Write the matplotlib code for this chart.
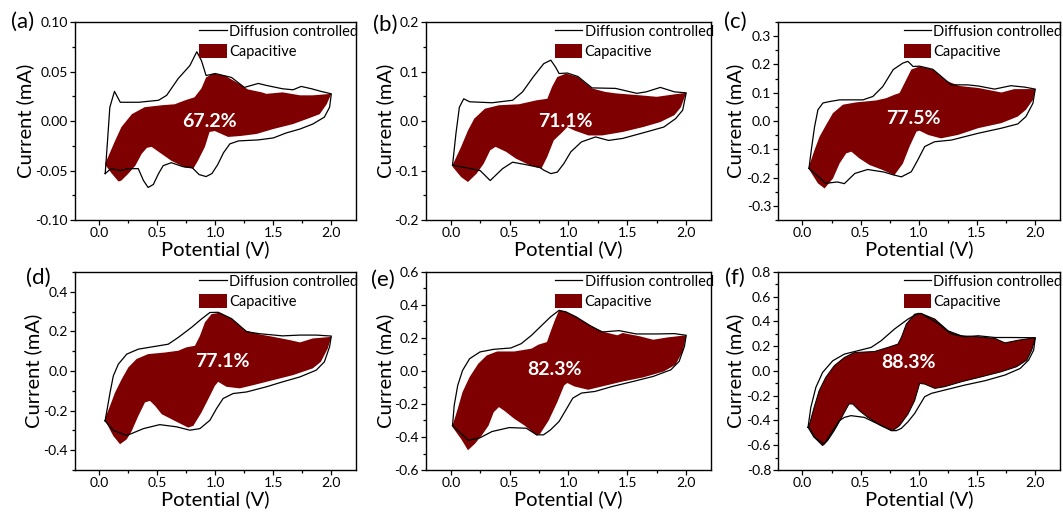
import matplotlib
matplotlib.use('Agg')
import matplotlib.pyplot as plt
from matplotlib.lines import Line2D
from matplotlib.patches import Patch
from matplotlib.ticker import MultipleLocator, AutoMinorLocator, FormatStrFormatter

plt.rcParams['font.family'] = ['Lato', 'DejaVu Sans']
plt.rcParams['axes.unicode_minus'] = False

# ---- data: potential (V) / current (mA), closed loops ----
# (a)
A_TOT_V = [0.05, 0.07, 0.09, 0.13, 0.18, 0.34, 0.51, 0.58, 0.68, 0.78, 0.84, 0.88, 0.92, 1.00, 1.14,
           1.25, 1.37, 1.44, 1.58, 1.67, 1.74, 1.83, 1.91, 2.00,
           1.985, 1.94, 1.84, 1.73, 1.61, 1.50, 1.37, 1.20, 1.125, 1.07, 1.02, 0.97, 0.92, 0.86, 0.80,
           0.72, 0.62, 0.55, 0.51, 0.465, 0.42, 0.38, 0.335, 0.25, 0.18, 0.10, 0.05]
A_TOT_I = [-0.053, -0.020, 0.014, 0.030, 0.019, 0.019, 0.021, 0.026, 0.043, 0.056, 0.070, 0.061, 0.046, 0.048, 0.044,
           0.034, 0.038, 0.036, 0.0326, 0.0316, 0.035, 0.0326, 0.030, 0.0275,
           0.014, 0.004, -0.003, -0.008, -0.012, -0.017, -0.019, -0.020, -0.023, -0.032, -0.044, -0.053, -0.056, -0.054, -0.047,
           -0.046, -0.042, -0.045, -0.053, -0.064, -0.067, -0.060, -0.048, -0.048, -0.050, -0.048, -0.053]
A_CAP_V = [0.05, 0.135, 0.19, 0.28, 0.39, 0.54, 0.65, 0.74, 0.82, 0.88, 0.92, 0.98, 1.08, 1.20, 1.28, 1.40, 1.44,
           1.58, 1.73, 1.84, 2.00,
           1.96, 1.90, 1.81, 1.67, 1.50, 1.355, 1.22, 1.11, 0.995, 0.95, 0.91, 0.85, 0.81, 0.74, 0.62, 0.535,
           0.45, 0.41, 0.365, 0.31, 0.25, 0.19, 0.165, 0.107, 0.05]
A_CAP_I = [-0.043, -0.020, -0.006, 0.007, 0.014, 0.016, 0.017, 0.021, 0.024, 0.033, 0.044, 0.048, 0.046, 0.038, 0.032, 0.029, 0.0275,
           0.029, 0.026, 0.026, 0.0275,
           0.017, 0.007, 0.003, -0.003, -0.008, -0.013, -0.015, -0.016, -0.010, -0.011, -0.026, -0.040, -0.048, -0.047, -0.040, -0.033,
           -0.026, -0.027, -0.033, -0.045, -0.053, -0.060, -0.061, -0.053, -0.044]

# (b)
B_TOT_V = [0.015, 0.044, 0.073, 0.11, 0.16, 0.35, 0.525, 0.61, 0.70, 0.79, 0.85, 0.89, 0.92, 0.99, 1.08, 1.20, 1.40,
           1.58, 1.66, 1.78, 1.90, 2.00,
           1.97, 1.91, 1.81, 1.66, 1.46, 1.34, 1.23, 1.11, 1.02, 0.96, 0.905, 0.85, 0.79, 0.76, 0.64, 0.525,
           0.44, 0.335, 0.25, 0.15, 0.015]
B_TOT_I = [-0.089, -0.025, 0.028, 0.045, 0.039, 0.037, 0.042, 0.059, 0.089, 0.116, 0.123, 0.109, 0.096, 0.097, 0.090, 0.067, 0.066,
           0.056, 0.059, 0.068, 0.059, 0.057,
           0.022, 0.005, -0.012, -0.022, -0.035, -0.039, -0.032, -0.042, -0.062, -0.086, -0.103, -0.106, -0.099, -0.094, -0.088, -0.083,
           -0.096, -0.120, -0.100, -0.095, -0.089]
B_CAP_V = [0.015, 0.088, 0.146, 0.20, 0.29, 0.41, 0.58, 0.73, 0.82, 0.86, 0.905, 0.98, 1.08, 1.20, 1.31, 1.40, 1.61,
           1.75, 1.90, 2.00,
           1.955, 1.90, 1.78, 1.635, 1.46, 1.285, 1.17, 1.05, 0.99, 0.95, 0.875, 0.82, 0.77, 0.67, 0.555, 0.47,
           0.38, 0.335, 0.28, 0.22, 0.146, 0.088, 0.015]
B_CAP_I = [-0.089, -0.052, -0.019, 0.005, 0.025, 0.032, 0.034, 0.042, 0.045, 0.069, 0.089, 0.096, 0.089, 0.066, 0.059, 0.056, 0.052,
           0.049, 0.054, 0.057,
           0.028, 0.012, -0.002, -0.012, -0.022, -0.029, -0.029, -0.019, -0.012, -0.022, -0.039, -0.072, -0.096, -0.089, -0.076, -0.062,
           -0.052, -0.059, -0.086, -0.106, -0.123, -0.113, -0.092]

# (c)
C_TOT_V = [0.056, 0.076, 0.104, 0.133, 0.176, 0.233, 0.32, 0.52, 0.605, 0.69, 0.78, 0.863, 0.906, 0.95, 1.006, 1.12,
           1.235, 1.28, 1.42, 1.51, 1.65, 1.79, 1.91, 2.00,
           1.98, 1.92, 1.85, 1.71, 1.51, 1.28, 1.135, 1.05, 0.99, 0.935, 0.85, 0.78, 0.70, 0.56, 0.45, 0.36,
           0.30, 0.20, 0.056]
C_TOT_I = [-0.167, -0.102, -0.020, 0.040, 0.064, 0.069, 0.075, 0.075, 0.087, 0.122, 0.182, 0.205, 0.211, 0.193, 0.194, 0.183,
           0.143, 0.128, 0.128, 0.124, 0.113, 0.125, 0.120, 0.113,
           0.063, 0.016, -0.010, -0.025, -0.043, -0.067, -0.073, -0.090, -0.138, -0.179, -0.197, -0.190, -0.180, -0.171, -0.185, -0.221,
           -0.215, -0.220, -0.167]
C_CAP_V = [0.056, 0.104, 0.147, 0.204, 0.262, 0.348, 0.46, 0.634, 0.72, 0.79, 0.834, 0.877, 0.935, 1.006, 1.12, 1.235,
           1.35, 1.51, 1.71, 1.82, 2.00,
           1.98, 1.92, 1.85, 1.71, 1.51, 1.335, 1.19, 1.08, 1.006, 0.98, 0.92, 0.863, 0.79, 0.69, 0.576, 0.49,
           0.42, 0.376, 0.32, 0.262, 0.19, 0.133, 0.056]
C_CAP_I = [-0.160, -0.102, -0.055, -0.013, 0.028, 0.058, 0.066, 0.073, 0.081, 0.093, 0.099, 0.134, 0.182, 0.193, 0.182, 0.142,
           0.124, 0.117, 0.101, 0.113, 0.113,
           0.075, 0.040, 0.016, -0.007, -0.025, -0.049, -0.061, -0.049, -0.034, -0.037, -0.090, -0.150, -0.191, -0.173, -0.155, -0.132,
           -0.108, -0.114, -0.149, -0.203, -0.238, -0.220, -0.170]

# (d)
D_TOT_V = [0.049, 0.072, 0.092, 0.12, 0.163, 0.236, 0.336, 0.48, 0.594, 0.68, 0.795, 0.88, 0.953, 1.024, 1.14, 1.27,
           1.38, 1.58, 1.73, 1.87, 2.00,
           1.985, 1.94, 1.87, 1.73, 1.58, 1.44, 1.27, 1.153, 1.067, 1.01, 0.953, 0.867, 0.78, 0.666, 0.52, 0.38,
           0.236, 0.12, 0.049]
D_TOT_I = [-0.252, -0.176, -0.109, -0.025, 0.034, 0.085, 0.110, 0.124, 0.135, 0.169, 0.220, 0.262, 0.295, 0.296, 0.264, 0.198,
           0.188, 0.177, 0.181, 0.181, 0.176,
           0.122, 0.046, 0.004, -0.030, -0.055, -0.080, -0.106, -0.114, -0.139, -0.190, -0.249, -0.291, -0.299, -0.282, -0.271, -0.291,
           -0.326, -0.300, -0.252]
D_CAP_V = [0.049, 0.092, 0.135, 0.193, 0.25, 0.32, 0.42, 0.565, 0.68, 0.75, 0.824, 0.867, 0.91, 0.967, 1.04, 1.14,
           1.254, 1.37, 1.50, 1.64, 1.73, 1.84, 2.00,
           1.97, 1.91, 1.84, 1.67, 1.50, 1.325, 1.21, 1.096, 1.024, 0.996, 0.953, 0.88, 0.81, 0.766, 0.65, 0.537,
           0.48, 0.436, 0.393, 0.336, 0.279, 0.236, 0.178, 0.12, 0.049]
D_CAP_I = [-0.240, -0.176, -0.109, -0.041, 0.018, 0.060, 0.085, 0.093, 0.102, 0.119, 0.127, 0.177, 0.245, 0.287, 0.294, 0.262,
           0.205, 0.186, 0.172, 0.156, 0.144, 0.164, 0.172,
           0.114, 0.046, 0.013, -0.021, -0.046, -0.072, -0.088, -0.080, -0.055, -0.075, -0.126, -0.210, -0.277, -0.286, -0.252, -0.218,
           -0.176, -0.151, -0.159, -0.227, -0.303, -0.345, -0.370, -0.328, -0.250]

# (e)
E_TOT_V = [0.015, 0.029, 0.059, 0.10, 0.16, 0.248, 0.365, 0.51, 0.598, 0.686, 0.773, 0.847, 0.92, 0.978, 1.066, 1.18,
           1.285, 1.43, 1.576, 1.75, 1.90, 2.00,
           1.985, 1.94, 1.87, 1.72, 1.547, 1.372, 1.226, 1.11, 1.036, 0.978, 0.92, 0.847, 0.788, 0.73, 0.642,
           0.496, 0.35, 0.248, 0.15, 0.015]
E_TOT_I = [-0.331, -0.209, -0.088, 0.003, 0.074, 0.115, 0.131, 0.139, 0.165, 0.216, 0.276, 0.327, 0.367, 0.358, 0.327, 0.276,
           0.236, 0.244, 0.224, 0.224, 0.226, 0.216,
           0.149, 0.058, 0.007, -0.033, -0.064, -0.094, -0.124, -0.134, -0.165, -0.236, -0.306, -0.357, -0.387, -0.387, -0.347,
           -0.343, -0.367, -0.405, -0.420, -0.331]
E_CAP_V = [0.015, 0.059, 0.10, 0.16, 0.234, 0.306, 0.394, 0.54, 0.686, 0.744, 0.817, 0.847, 0.884, 0.92, 0.978, 1.066,
           1.18, 1.30, 1.416, 1.46, 1.605, 1.72, 1.84, 2.00,
           1.97, 1.91, 1.81, 1.635, 1.46, 1.285, 1.167, 1.05, 0.99, 0.963, 0.905, 0.832, 0.759, 0.73, 0.628, 0.54,
           0.453, 0.409, 0.365, 0.321, 0.263, 0.204, 0.146, 0.088, 0.015]
E_CAP_I = [-0.331, -0.230, -0.128, -0.037, 0.044, 0.094, 0.118, 0.118, 0.135, 0.159, 0.175, 0.236, 0.307, 0.367, 0.358, 0.327,
           0.276, 0.236, 0.216, 0.230, 0.210, 0.189, 0.203, 0.216,
           0.118, 0.038, -0.003, -0.039, -0.064, -0.094, -0.114, -0.094, -0.073, -0.088, -0.189, -0.300, -0.381, -0.391, -0.331, -0.290,
           -0.240, -0.219, -0.250, -0.331, -0.391, -0.442, -0.480, -0.412, -0.340]

# (f)
F_TOT_V = [0.048, 0.072, 0.115, 0.173, 0.26, 0.36, 0.475, 0.59, 0.676, 0.79, 0.907, 0.993, 1.02, 1.166, 1.28, 1.395,
           1.51, 1.655, 1.80, 2.00,
           1.986, 1.943, 1.87, 1.74, 1.568, 1.395, 1.223, 1.108, 1.05, 1.007, 0.964, 0.907, 0.849, 0.806, 0.763,
           0.648, 0.532, 0.417, 0.36, 0.316, 0.187, 0.10, 0.048]
F_TOT_I = [-0.455, -0.294, -0.133, -0.012, 0.082, 0.136, 0.163, 0.190, 0.244, 0.338, 0.419, 0.464, 0.464, 0.383, 0.298, 0.276,
           0.284, 0.270, 0.270, 0.268,
           0.168, 0.088, 0.020, -0.033, -0.079, -0.114, -0.154, -0.181, -0.208, -0.275, -0.343, -0.410, -0.464, -0.482, -0.482,
           -0.428, -0.375, -0.361, -0.375, -0.402, -0.590, -0.536, -0.455]
F_CAP_V = [0.057, 0.10, 0.143, 0.20, 0.273, 0.36, 0.446, 0.618, 0.734, 0.82, 0.849, 0.892, 0.964, 1.02, 1.137, 1.252,
           1.367, 1.51, 1.655, 1.74, 1.857, 2.00,
           1.97, 1.928, 1.84, 1.71, 1.54, 1.367, 1.223, 1.137, 1.05, 1.007, 0.993, 0.964, 0.907, 0.834, 0.777, 0.676,
           0.561, 0.489, 0.432, 0.40, 0.36, 0.33, 0.273, 0.216, 0.173, 0.115, 0.057]
F_CAP_I = [-0.442, -0.294, -0.160, -0.052, 0.042, 0.109, 0.149, 0.157, 0.190, 0.217, 0.270, 0.378, 0.459, 0.464, 0.419, 0.324,
           0.284, 0.276, 0.262, 0.227, 0.249, 0.268,
           0.168, 0.088, 0.034, -0.006, -0.047, -0.087, -0.127, -0.141, -0.106, -0.101, -0.146, -0.240, -0.348, -0.442, -0.482, -0.442,
           -0.375, -0.321, -0.267, -0.267, -0.335, -0.388, -0.482, -0.563, -0.603, -0.549, -0.455]

PANEL_TAGS = ['(a)', '(b)', '(c)', '(d)', '(e)', '(f)']
PERCENTS = ['67.2%', '71.1%', '77.5%', '77.1%', '82.3%', '88.3%']
PCT_POS = [(0.95, 0.0), (0.97, 0.0), (0.95, 0.01), (1.06, 0.05), (0.877, 0.01), (0.91, 0.067)]
Y_LIMS = [(-0.10, 0.10), (-0.2, 0.2), (-0.35, 0.35), (-0.5, 0.5), (-0.6, 0.6), (-0.8, 0.8)]
Y_STEPS = [0.05, 0.1, 0.1, 0.2, 0.2, 0.2]
Y_FMT = ['%.2f', '%.1f', '%.1f', '%.1f', '%.1f', '%.1f']

loops = [
    (A_TOT_V, A_TOT_I, A_CAP_V, A_CAP_I),
    (B_TOT_V, B_TOT_I, B_CAP_V, B_CAP_I),
    (C_TOT_V, C_TOT_I, C_CAP_V, C_CAP_I),
    (D_TOT_V, D_TOT_I, D_CAP_V, D_CAP_I),
    (E_TOT_V, E_TOT_I, E_CAP_V, E_CAP_I),
    (F_TOT_V, F_TOT_I, F_CAP_V, F_CAP_I),
]

RED = '#7f0000'

fig = plt.figure(figsize=(10.63, 5.12), dpi=100)

lefts = [0.0706, 0.4008, 0.7319]
widths = [0.264, 0.268, 0.265]
bottoms = [0.570, 0.082]
height = 0.387
ylab_x = [-0.146, -0.113, -0.12, -0.118, -0.113, -0.12]
tag_xy = [(23, 22), (385, 25), (735, 22), (38, 278), (383, 280), (735, 278)]

for k in range(6):
    r, c = divmod(k, 3)
    ax = fig.add_axes([lefts[c], bottoms[r], widths[c], height])
    tv, ti, cv, ci = loops[k]

    # capacitive part (filled) then total CV loop on top
    edge = 'black' if k == 5 else 'none'
    ax.fill(cv, ci, facecolor=RED, edgecolor=edge, linewidth=0.7, zorder=2)
    ax.plot(tv + tv[:1], ti + ti[:1], color='black', linewidth=0.9, zorder=3)

    ax.text(PCT_POS[k][0], PCT_POS[k][1], PERCENTS[k], color='white', fontsize=14,
            fontweight='bold', ha='center', va='center', zorder=4)

    ax.set_xlim(-0.21, 2.21)
    ax.set_ylim(*Y_LIMS[k])
    ax.xaxis.set_major_locator(MultipleLocator(0.5))
    ax.xaxis.set_minor_locator(AutoMinorLocator(2))
    ax.xaxis.set_major_formatter(FormatStrFormatter('%.1f'))
    ax.yaxis.set_major_locator(MultipleLocator(Y_STEPS[k]))
    ax.yaxis.set_minor_locator(AutoMinorLocator(2))
    ax.yaxis.set_major_formatter(FormatStrFormatter(Y_FMT[k]))
    ax.tick_params(which='both', direction='out', top=False, right=False, width=0.9, labelsize=10)
    ax.tick_params(which='major', length=3.5, pad=1.5)
    ax.tick_params(which='minor', length=2)
    for s in ax.spines.values():
        s.set_linewidth(1.0)

    ax.set_xlabel('Potential (V)', fontsize=14.5)
    ax.xaxis.set_label_coords(0.5, -0.1)
    ax.set_ylabel('Current (mA)', fontsize=14.5)
    ax.yaxis.set_label_coords(ylab_x[k], 0.5)

    handles = [Line2D([], [], color='black', linewidth=0.9),
               Patch(facecolor=RED, edgecolor='none')]
    ax.legend(handles, ['Diffusion controlled', 'Capacitive'], loc='upper right',
              bbox_to_anchor=(1.01, 0.99), frameon=False, fontsize=10.5,
              handlelength=1.9, handleheight=1.1, handletextpad=0.15,
              labelspacing=0.35, borderpad=0, borderaxespad=0)

    fig.text(tag_xy[k][0] / 1063, 1 - tag_xy[k][1] / 512, PANEL_TAGS[k],
             fontsize=16, ha='center', va='center')

fig.savefig('out.png', dpi=100)
